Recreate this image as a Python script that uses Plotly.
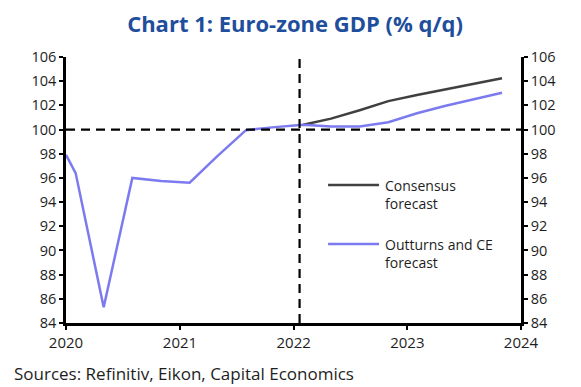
import plotly.graph_objects as go

# Outturns and CE forecast (index, quarterly, plotted mid-quarter)
ce_dates = ["2020-01-01", "2020-02-01", "2020-05-01", "2020-08-01", "2020-11-01",
            "2021-02-01", "2021-05-01", "2021-08-01", "2021-11-01", "2022-02-01",
            "2022-05-01", "2022-08-01", "2022-11-01", "2023-02-01", "2023-05-01",
            "2023-08-01", "2023-11-01"]
ce_values = [97.9, 96.4, 85.3, 96.0, 95.75,
             95.6, 97.8, 99.95, 100.2, 100.4,
             100.25, 100.25, 100.6, 101.35, 101.95,
             102.5, 103.05]

# Consensus forecast
cons_dates = ["2022-02-01", "2022-05-01", "2022-08-01", "2022-11-01", "2023-02-01",
              "2023-05-01", "2023-08-01", "2023-11-01"]
cons_values = [100.4, 100.9, 101.6, 102.35, 102.85, 103.3, 103.75, 104.25]

y_ticks = list(range(84, 107, 2))
x_tickvals = ["2020-01-01", "2021-01-01", "2022-01-01", "2023-01-01", "2024-01-01"]
x_ticktext = ["2020", "2021", "2022", "2023", "2024"]
forecast_start = "2022-01-20"
baseline = 100

FONT = "Open Sans"
CE_COLOR = "#7b7bef"
CONS_COLOR = "#404040"
TEXT_COLOR = "#1e1e1e"

fig = go.Figure()
fig.add_trace(go.Scatter(x=cons_dates, y=cons_values, mode="lines",
                         line=dict(color=CONS_COLOR, width=2.5), name="Consensus forecast",
                         showlegend=False))
fig.add_trace(go.Scatter(x=ce_dates, y=ce_values, mode="lines",
                         line=dict(color=CE_COLOR, width=2.5), name="Outturns and CE forecast",
                         showlegend=False))
# invisible trace to activate the right axis
fig.add_trace(go.Scatter(x=[ce_dates[0]], y=[ce_values[0]], yaxis="y2", mode="lines",
                         line=dict(width=0), showlegend=False, hoverinfo="skip"))

# reference lines
fig.add_shape(type="line", xref="paper", x0=0, x1=1, yref="y", y0=baseline, y1=baseline,
              line=dict(color="black", width=2.2, dash="9px,6px"), layer="above")
fig.add_shape(type="line", xref="x", x0=forecast_start, x1=forecast_start, yref="paper", y0=0, y1=1,
              line=dict(color="black", width=2.2, dash="9px,6px"), layer="above")

# legend (manual)
legend_items = [("Consensus<br>forecast", CONS_COLOR, 0.519), ("Outturns and CE<br>forecast", CE_COLOR, 0.297)]
for text, color, yp in legend_items:
    fig.add_shape(type="line", xref="paper", yref="paper", x0=0.576, x1=0.688, y0=yp, y1=yp,
                  line=dict(color=color, width=2.5))
    fig.add_annotation(xref="paper", yref="paper", x=0.697, y=yp + 0.040, xanchor="left", yanchor="top",
                       text=text, showarrow=False, align="left",
                       font=dict(family=FONT, size=14, color=TEXT_COLOR))

axis_common = dict(range=[84, 106], tickvals=y_ticks, showline=True, linecolor="black", linewidth=2.5,
                   ticks="outside", ticklen=4, tickwidth=1.5, tickcolor="black", showgrid=False,
                   zeroline=False, automargin=False,
                   tickfont=dict(family=FONT, size=14.5, color=TEXT_COLOR))

# page body has an 8px margin, so the figure is sized/placed to compensate
fig.update_layout(
    width=573, height=379,
    margin=dict(l=58, r=60, t=49, b=64, autoexpand=False),
    paper_bgcolor="white", plot_bgcolor="white",
    title=dict(text="<b>Chart 1: Euro-zone GDP (% q/q)</b>", x=(295 - 8) / 573, xanchor="center",
               y=1 - 16 / 379, yanchor="middle", font=dict(family=FONT, size=22, color="#1f4e9c")),
    xaxis=dict(type="date", range=["2020-01-01", "2024-01-01"], tickvals=x_tickvals, ticktext=x_ticktext,
               showline=True, linecolor="black", linewidth=2.5, ticks="outside", ticklen=4,
               tickwidth=1.5, tickcolor="black", showgrid=False, zeroline=False, automargin=False,
               tickfont=dict(family=FONT, size=15, color=TEXT_COLOR)),
    yaxis=dict(**axis_common),
    yaxis2=dict(**axis_common, overlaying="y", side="right"),
    showlegend=False,
)
fig.add_annotation(xref="paper", yref="paper", x=-54 / 455, y=-50 / 266, xanchor="left",
                   yanchor="middle", text="Sources: Refinitiv, Eikon, Capital Economics", showarrow=False,
                   font=dict(family=FONT, size=17, color=TEXT_COLOR))

fig.write_html("out.html")
